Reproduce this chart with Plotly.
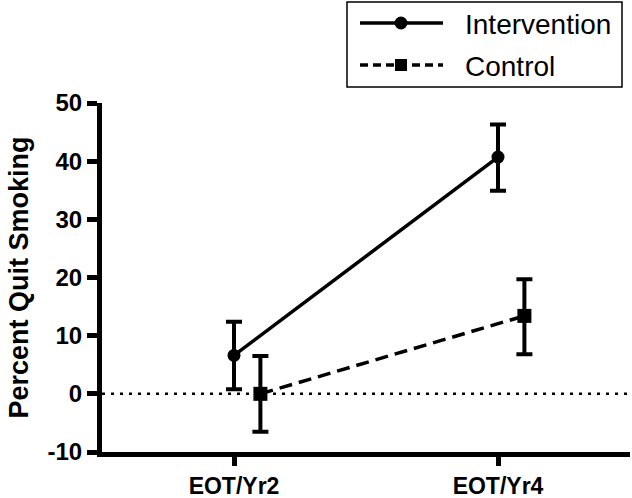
import plotly.graph_objects as go

# ---- data ----
categories = ["EOT/Yr2", "EOT/Yr4"]
cat_pos = [0, 1]
intervention_vals = [6.6, 40.7]
intervention_err_plus = [5.8, 5.6]
intervention_err_minus = [5.8, 5.8]
control_vals = [0.0, 13.4]
control_err_plus = [6.5, 6.3]
control_err_minus = [6.5, 6.6]
control_offset = 0.1
y_ticks = [-10, 0, 10, 20, 30, 40, 50]
y_tick_labels = ["-10", "0", "10", "20", "30", "40", "50"]

FONT = "Liberation Sans, Arial, sans-serif"

L, R, T, B = 102, 2, 103, 46
W, H = 632, 498

fig = go.Figure()

fig.add_trace(go.Scatter(
    x=cat_pos, y=intervention_vals, mode="lines+markers", name="Intervention",
    line=dict(color="black", width=3.5),
    marker=dict(symbol="circle", size=13, color="black"),
    error_y=dict(type="data", array=intervention_err_plus, arrayminus=intervention_err_minus,
                 color="black", thickness=4, width=8),
    showlegend=False,
))
fig.add_trace(go.Scatter(
    x=[p + control_offset for p in cat_pos], y=control_vals, mode="lines+markers", name="Control",
    line=dict(color="black", width=3.5, dash="13px,7px"),
    marker=dict(symbol="square", size=14, color="black"),
    error_y=dict(type="data", array=control_err_plus, arrayminus=control_err_minus,
                 color="black", thickness=4, width=8),
    showlegend=False,
))

# zero reference line
fig.add_hline(y=0, line=dict(color="black", width=2.5, dash="3px,6px"), layer="below")

# ---- manual legend (paper coords) ----
PW = W - L - R
PH = H - T - B


def px_x(p):
    return (p - L) / PW


def px_y(p):
    return (H - B - p) / PH


shapes = []
shapes.append(dict(type="rect", xref="paper", yref="paper",
                   x0=px_x(347), x1=px_x(622), y0=px_y(87), y1=px_y(2),
                   line=dict(color="black", width=1.5)))
shapes.append(dict(type="line", xref="paper", yref="paper",
                   x0=px_x(360), x1=px_x(443), y0=px_y(23), y1=px_y(23),
                   line=dict(color="black", width=3.5)))
shapes.append(dict(type="circle", xref="paper", yref="paper",
                   xsizemode="pixel", ysizemode="pixel",
                   xanchor=px_x(401), yanchor=px_y(23),
                   x0=-6.5, x1=6.5, y0=-6.5, y1=6.5,
                   fillcolor="black", line=dict(color="black", width=0)))
shapes.append(dict(type="line", xref="paper", yref="paper",
                   x0=px_x(360), x1=px_x(443), y0=px_y(65), y1=px_y(65),
                   line=dict(color="black", width=3.5, dash="8px,5px")))
shapes.append(dict(type="rect", xref="paper", yref="paper",
                   xsizemode="pixel", ysizemode="pixel",
                   xanchor=px_x(401), yanchor=px_y(65),
                   x0=-6, x1=6, y0=-6, y1=6,
                   fillcolor="black", line=dict(color="black", width=0)))
for s in shapes:
    fig.add_shape(**s)

fig.add_annotation(x=px_x(463), y=px_y(24), xref="paper", yref="paper",
                   text="Intervention", showarrow=False, xanchor="left", yanchor="middle",
                   font=dict(family=FONT, size=28, color="black"))
fig.add_annotation(x=px_x(463), y=px_y(66), xref="paper", yref="paper",
                   text="Control", showarrow=False, xanchor="left", yanchor="middle",
                   font=dict(family=FONT, size=28, color="black"))

fig.update_layout(
    width=W, height=H,
    margin=dict(l=L, r=R, t=T, b=B),
    paper_bgcolor="white", plot_bgcolor="white",
    font=dict(family=FONT, color="black"),
    showlegend=False,
)
fig.update_xaxes(
    range=[-0.5, 1.5], tickvals=cat_pos, ticktext=categories, automargin=False,
    showline=True, linewidth=5, linecolor="black", showgrid=False, zeroline=False,
    ticks="outside", ticklen=9, tickwidth=5, tickcolor="black",
    tickfont=dict(family=FONT, size=23, color="black", weight="bold"),
)
fig.update_yaxes(
    range=[-10, 50], tickvals=y_ticks, ticktext=y_tick_labels, automargin=False,
    showline=True, linewidth=5, linecolor="black", showgrid=False, zeroline=False,
    ticks="outside", ticklen=10, tickwidth=5, tickcolor="black",
    tickfont=dict(family=FONT, size=24, color="black", weight="bold"),
    title=dict(text="Percent Quit Smoking", standoff=13,
               font=dict(family=FONT, size=27, color="black", weight="bold")),
)

fig.write_html(
    "out.html",
    config={"displayModeBar": False},
    post_script="document.body.style.margin='0';document.body.style.overflow='hidden';",
)
